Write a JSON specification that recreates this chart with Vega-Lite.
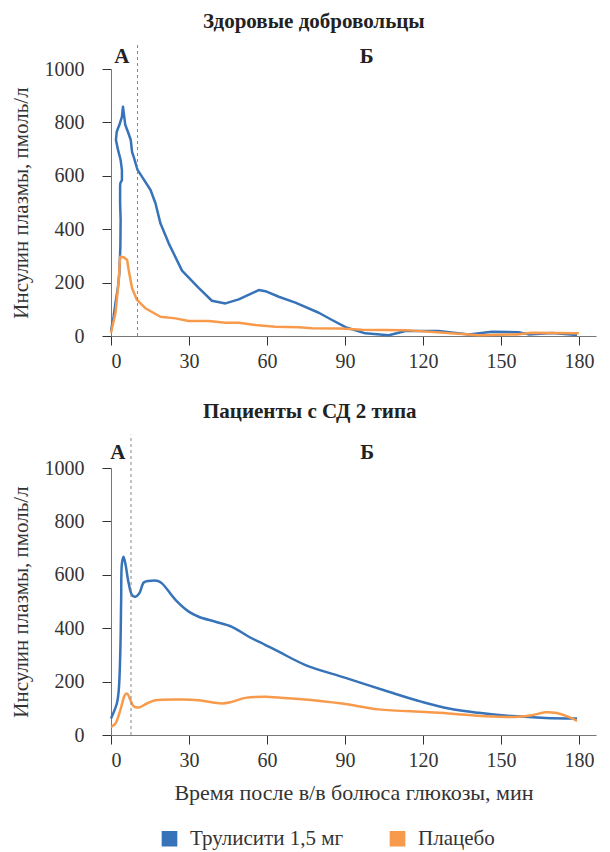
{
  "$schema": "https://vega.github.io/schema/vega-lite/v6.json",
  "background": "white",
  "padding": {"left": 10, "top": 10, "right": 8, "bottom": 8},
  "config": {
    "font": "Liberation Serif, DejaVu Serif, serif",
    "view": {"stroke": null},
    "axis": {
      "labelFontSize": 20, "labelColor": "#333",
      "titleFontSize": 21, "titleFontWeight": "normal", "titleColor": "#333",
      "domainColor": "#777", "tickColor": "#333", "grid": false, "tickSize": 9, "format": "d"
    },
    "axisY": {"labelPadding": 18, "titlePadding": 13},
    "axisX": {"labelPadding": 6, "titlePadding": 12, "titleFontSize": 22},
    "title": {"fontSize": 21, "fontWeight": "bold", "color": "#222"},
    "legend": {"labelFontSize": 21, "labelColor": "#333"},
    "concat": {"spacing": 30}
  },
  "datasets": {
    "healthy": [
      {"i": 1, "s": "Трулисити 1,5 мг", "t": 0, "v": 20},
      {"i": 2, "s": "Трулисити 1,5 мг", "t": 1.0, "v": 72},
      {"i": 3, "s": "Трулисити 1,5 мг", "t": 1.9, "v": 135},
      {"i": 4, "s": "Трулисити 1,5 мг", "t": 2.7, "v": 185},
      {"i": 5, "s": "Трулисити 1,5 мг", "t": 3.2, "v": 235},
      {"i": 6, "s": "Трулисити 1,5 мг", "t": 3.6, "v": 334},
      {"i": 7, "s": "Трулисити 1,5 мг", "t": 3.7, "v": 434},
      {"i": 8, "s": "Трулисити 1,5 мг", "t": 3.5, "v": 500},
      {"i": 9, "s": "Трулисити 1,5 мг", "t": 3.5, "v": 560},
      {"i": 10, "s": "Трулисити 1,5 мг", "t": 3.6, "v": 573},
      {"i": 11, "s": "Трулисити 1,5 мг", "t": 4.2, "v": 584},
      {"i": 12, "s": "Трулисити 1,5 мг", "t": 4.2, "v": 622},
      {"i": 13, "s": "Трулисити 1,5 мг", "t": 3.7, "v": 659},
      {"i": 14, "s": "Трулисити 1,5 мг", "t": 2.7, "v": 697},
      {"i": 15, "s": "Трулисити 1,5 мг", "t": 1.9, "v": 734},
      {"i": 16, "s": "Трулисити 1,5 мг", "t": 2.2, "v": 765},
      {"i": 17, "s": "Трулисити 1,5 мг", "t": 3.2, "v": 790},
      {"i": 18, "s": "Трулисити 1,5 мг", "t": 4.2, "v": 821},
      {"i": 19, "s": "Трулисити 1,5 мг", "t": 4.6, "v": 859},
      {"i": 20, "s": "Трулисити 1,5 мг", "t": 5.0, "v": 828},
      {"i": 21, "s": "Трулисити 1,5 мг", "t": 5.5, "v": 790},
      {"i": 22, "s": "Трулисити 1,5 мг", "t": 6.5, "v": 765},
      {"i": 23, "s": "Трулисити 1,5 мг", "t": 7.6, "v": 734},
      {"i": 24, "s": "Трулисити 1,5 мг", "t": 8.1, "v": 690},
      {"i": 25, "s": "Трулисити 1,5 мг", "t": 8.9, "v": 665},
      {"i": 26, "s": "Трулисити 1,5 мг", "t": 10.2, "v": 622},
      {"i": 27, "s": "Трулисити 1,5 мг", "t": 11.9, "v": 597},
      {"i": 28, "s": "Трулисити 1,5 мг", "t": 15.2, "v": 547},
      {"i": 29, "s": "Трулисити 1,5 мг", "t": 17.1, "v": 497},
      {"i": 30, "s": "Трулисити 1,5 мг", "t": 19, "v": 422},
      {"i": 31, "s": "Трулисити 1,5 мг", "t": 22.2, "v": 347},
      {"i": 32, "s": "Трулисити 1,5 мг", "t": 27.3, "v": 245},
      {"i": 33, "s": "Трулисити 1,5 мг", "t": 33.7, "v": 180},
      {"i": 34, "s": "Трулисити 1,5 мг", "t": 38.8, "v": 132},
      {"i": 35, "s": "Трулисити 1,5 мг", "t": 44, "v": 122},
      {"i": 36, "s": "Трулисити 1,5 мг", "t": 49.1, "v": 137},
      {"i": 37, "s": "Трулисити 1,5 мг", "t": 56.8, "v": 172},
      {"i": 38, "s": "Трулисити 1,5 мг", "t": 59.4, "v": 168},
      {"i": 39, "s": "Трулисити 1,5 мг", "t": 64.5, "v": 147},
      {"i": 40, "s": "Трулисити 1,5 мг", "t": 70.9, "v": 125},
      {"i": 41, "s": "Трулисити 1,5 мг", "t": 79.9, "v": 87},
      {"i": 42, "s": "Трулисити 1,5 мг", "t": 85, "v": 60},
      {"i": 43, "s": "Трулисити 1,5 мг", "t": 90.2, "v": 33},
      {"i": 44, "s": "Трулисити 1,5 мг", "t": 97.8, "v": 10},
      {"i": 45, "s": "Трулисити 1,5 мг", "t": 106.8, "v": 3},
      {"i": 46, "s": "Трулисити 1,5 мг", "t": 113.2, "v": 19},
      {"i": 47, "s": "Трулисити 1,5 мг", "t": 126, "v": 19},
      {"i": 48, "s": "Трулисити 1,5 мг", "t": 137.6, "v": 6},
      {"i": 49, "s": "Трулисити 1,5 мг", "t": 146.5, "v": 16},
      {"i": 50, "s": "Трулисити 1,5 мг", "t": 156.8, "v": 14},
      {"i": 51, "s": "Трулисити 1,5 мг", "t": 160.6, "v": 6},
      {"i": 52, "s": "Трулисити 1,5 мг", "t": 169.6, "v": 11},
      {"i": 53, "s": "Трулисити 1,5 мг", "t": 179.2, "v": 4},
      {"i": 101, "s": "Плацебо", "t": 0, "v": 12},
      {"i": 102, "s": "Плацебо", "t": 1.7, "v": 85},
      {"i": 103, "s": "Плацебо", "t": 3.0, "v": 210},
      {"i": 104, "s": "Плацебо", "t": 3.5, "v": 297},
      {"i": 105, "s": "Плацебо", "t": 4.9, "v": 295},
      {"i": 106, "s": "Плацебо", "t": 6.2, "v": 285},
      {"i": 107, "s": "Плацебо", "t": 6.8, "v": 247},
      {"i": 108, "s": "Плацебо", "t": 8.1, "v": 179},
      {"i": 109, "s": "Плацебо", "t": 10, "v": 135},
      {"i": 110, "s": "Плацебо", "t": 13.2, "v": 104},
      {"i": 111, "s": "Плацебо", "t": 19, "v": 72},
      {"i": 112, "s": "Плацебо", "t": 24.8, "v": 66},
      {"i": 113, "s": "Плацебо", "t": 29.9, "v": 56},
      {"i": 114, "s": "Плацебо", "t": 37.6, "v": 56},
      {"i": 115, "s": "Плацебо", "t": 44, "v": 50},
      {"i": 116, "s": "Плацебо", "t": 49.1, "v": 50},
      {"i": 117, "s": "Плацебо", "t": 55.5, "v": 41},
      {"i": 118, "s": "Плацебо", "t": 63.2, "v": 35},
      {"i": 119, "s": "Плацебо", "t": 72.2, "v": 33},
      {"i": 120, "s": "Плацебо", "t": 77.3, "v": 29},
      {"i": 121, "s": "Плацебо", "t": 88.3, "v": 28},
      {"i": 122, "s": "Плацебо", "t": 96.5, "v": 23},
      {"i": 123, "s": "Плацебо", "t": 113.2, "v": 22},
      {"i": 124, "s": "Плацебо", "t": 136.3, "v": 7},
      {"i": 125, "s": "Плацебо", "t": 141.4, "v": 3},
      {"i": 126, "s": "Плацебо", "t": 156, "v": 6},
      {"i": 127, "s": "Плацебо", "t": 161.8, "v": 12},
      {"i": 128, "s": "Плацебо", "t": 179.9, "v": 10}
    ],
    "t2d": [
      {"i": 1, "s": "Трулисити 1,5 мг", "t": 0, "v": 62},
      {"i": 2, "s": "Трулисити 1,5 мг", "t": 2.3, "v": 120},
      {"i": 3, "s": "Трулисити 1,5 мг", "t": 3.0, "v": 170},
      {"i": 4, "s": "Трулисити 1,5 мг", "t": 3.6, "v": 320},
      {"i": 5, "s": "Трулисити 1,5 мг", "t": 3.9, "v": 500},
      {"i": 6, "s": "Трулисити 1,5 мг", "t": 4.2, "v": 643},
      {"i": 7, "s": "Трулисити 1,5 мг", "t": 4.8, "v": 668},
      {"i": 8, "s": "Трулисити 1,5 мг", "t": 5.5, "v": 643},
      {"i": 9, "s": "Трулисити 1,5 мг", "t": 6.8, "v": 568},
      {"i": 10, "s": "Трулисити 1,5 мг", "t": 8.1, "v": 524},
      {"i": 11, "s": "Трулисити 1,5 мг", "t": 9.4, "v": 518},
      {"i": 12, "s": "Трулисити 1,5 мг", "t": 10.9, "v": 531},
      {"i": 13, "s": "Трулисити 1,5 мг", "t": 12.6, "v": 571},
      {"i": 14, "s": "Трулисити 1,5 мг", "t": 14.5, "v": 577},
      {"i": 15, "s": "Трулисити 1,5 мг", "t": 17.7, "v": 578},
      {"i": 16, "s": "Трулисити 1,5 мг", "t": 19.6, "v": 568},
      {"i": 17, "s": "Трулисити 1,5 мг", "t": 24.8, "v": 506},
      {"i": 18, "s": "Трулисити 1,5 мг", "t": 29.9, "v": 462},
      {"i": 19, "s": "Трулисити 1,5 мг", "t": 33.7, "v": 443},
      {"i": 20, "s": "Трулисити 1,5 мг", "t": 40.2, "v": 424},
      {"i": 21, "s": "Трулисити 1,5 мг", "t": 46.5, "v": 405},
      {"i": 22, "s": "Трулисити 1,5 мг", "t": 53, "v": 368},
      {"i": 23, "s": "Трулисити 1,5 мг", "t": 59.4, "v": 337},
      {"i": 24, "s": "Трулисити 1,5 мг", "t": 64.5, "v": 312},
      {"i": 25, "s": "Трулисити 1,5 мг", "t": 74.8, "v": 262},
      {"i": 26, "s": "Трулисити 1,5 мг", "t": 90.2, "v": 214},
      {"i": 27, "s": "Трулисити 1,5 мг", "t": 106.8, "v": 162},
      {"i": 28, "s": "Трулисити 1,5 мг", "t": 119.6, "v": 124},
      {"i": 29, "s": "Трулисити 1,5 мг", "t": 129.9, "v": 99},
      {"i": 30, "s": "Трулисити 1,5 мг", "t": 141.4, "v": 83},
      {"i": 31, "s": "Трулисити 1,5 мг", "t": 154.2, "v": 71},
      {"i": 32, "s": "Трулисити 1,5 мг", "t": 167.1, "v": 64},
      {"i": 33, "s": "Трулисити 1,5 мг", "t": 179.2, "v": 62},
      {"i": 101, "s": "Плацебо", "t": 0, "v": 30},
      {"i": 102, "s": "Плацебо", "t": 1.7, "v": 43},
      {"i": 103, "s": "Плацебо", "t": 3.6, "v": 93},
      {"i": 104, "s": "Плацебо", "t": 5.3, "v": 149},
      {"i": 105, "s": "Плацебо", "t": 6.2, "v": 155},
      {"i": 106, "s": "Плацебо", "t": 7.5, "v": 130},
      {"i": 107, "s": "Плацебо", "t": 8.7, "v": 108},
      {"i": 108, "s": "Плацебо", "t": 10.7, "v": 103},
      {"i": 109, "s": "Плацебо", "t": 13.8, "v": 118},
      {"i": 110, "s": "Плацебо", "t": 17.1, "v": 130},
      {"i": 111, "s": "Плацебо", "t": 27.3, "v": 133},
      {"i": 112, "s": "Плацебо", "t": 33.7, "v": 130},
      {"i": 113, "s": "Плацебо", "t": 42.7, "v": 118},
      {"i": 114, "s": "Плацебо", "t": 46.5, "v": 124},
      {"i": 115, "s": "Плацебо", "t": 51.7, "v": 139},
      {"i": 116, "s": "Плацебо", "t": 59.4, "v": 143},
      {"i": 117, "s": "Плацебо", "t": 64.5, "v": 140},
      {"i": 118, "s": "Плацебо", "t": 72.2, "v": 135},
      {"i": 119, "s": "Плацебо", "t": 88.8, "v": 118},
      {"i": 120, "s": "Плацебо", "t": 102.9, "v": 96},
      {"i": 121, "s": "Плацебо", "t": 120.9, "v": 86},
      {"i": 122, "s": "Плацебо", "t": 131.2, "v": 80},
      {"i": 123, "s": "Плацебо", "t": 144, "v": 70},
      {"i": 124, "s": "Плацебо", "t": 156.8, "v": 68},
      {"i": 125, "s": "Плацебо", "t": 161.9, "v": 74},
      {"i": 126, "s": "Плацебо", "t": 167.1, "v": 85},
      {"i": 127, "s": "Плацебо", "t": 170.9, "v": 83},
      {"i": 128, "s": "Плацебо", "t": 176, "v": 68},
      {"i": 129, "s": "Плацебо", "t": 179.2, "v": 53}
    ]
  },
  "vconcat": [
    {
      "title": {"text": "Здоровые добровольцы", "anchor": "start", "dx": 193, "offset": 10},
      "width": 485,
      "height": 267,
      "layer": [
        {
          "data": {"name": "healthy"},
          "mark": {"type": "line", "strokeWidth": 2.5, "interpolate": "linear", "strokeJoin": "round"},
          "encoding": {
            "x": {"field": "t", "type": "quantitative", "scale": {"domain": [0, 186.5], "nice": false}, "axis": {"values": [0, 30, 60, 90, 120, 150, 180], "title": null}},
            "y": {"field": "v", "type": "quantitative", "scale": {"domain": [0, 1000], "nice": false}, "axis": {"values": [0, 200, 400, 600, 800, 1000], "title": "Инсулин плазмы, пмоль/л"}},
            "color": {"field": "s", "type": "nominal", "scale": {"domain": ["Трулисити 1,5 мг", "Плацебо"], "range": ["#3773b9", "#f89a4b"]},
              "legend": {"title": null, "orient": "none", "legendX": 48, "legendY": 759, "direction": "horizontal", "symbolSize": 200, "columnPadding": 43, "labelOffset": 10,
                "encode": {"symbols": {"update": {"fill": {"scale": "color", "field": "value"}, "stroke": {"value": "transparent"}, "shape": {"value": "square"}}}}}},
            "order": {"field": "i", "type": "quantitative"}
          }
        },
        {
          "data": {"values": [{"t": 10.2, "v": 0, "v2": 1100}]},
          "mark": {"type": "rule", "strokeDash": [3, 3], "color": "#888", "strokeWidth": 1},
          "encoding": {
            "x": {"field": "t", "type": "quantitative"},
            "y": {"field": "v", "type": "quantitative"},
            "y2": {"field": "v2"}
          }
        },
        {
          "data": {"values": [{"t": 4.2, "v": 1045, "label": "А"}, {"t": 98.3, "v": 1045, "label": "Б"}]},
          "mark": {"type": "text", "fontSize": 21, "fontWeight": "bold", "color": "#222", "baseline": "middle"},
          "encoding": {
            "x": {"field": "t", "type": "quantitative"},
            "y": {"field": "v", "type": "quantitative"},
            "text": {"field": "label"}
          }
        }
      ]
    },
    {
      "title": {"text": "Пациенты с СД 2 типа", "anchor": "start", "dx": 193, "offset": 12},
      "width": 485,
      "height": 267,
      "layer": [
        {
          "data": {"name": "t2d"},
          "mark": {"type": "line", "strokeWidth": 2.5, "interpolate": "catmull-rom", "strokeJoin": "round"},
          "encoding": {
            "x": {"field": "t", "type": "quantitative", "scale": {"domain": [0, 186.5], "nice": false}, "axis": {"values": [0, 30, 60, 90, 120, 150, 180], "title": "Время после в/в болюса глюкозы, мин"}},
            "y": {"field": "v", "type": "quantitative", "scale": {"domain": [0, 1000], "nice": false}, "axis": {"values": [0, 200, 400, 600, 800, 1000], "title": "Инсулин плазмы, пмоль/л"}},
            "color": {"field": "s", "type": "nominal", "scale": {"domain": ["Трулисити 1,5 мг", "Плацебо"], "range": ["#3773b9", "#f89a4b"]}},
            "order": {"field": "i", "type": "quantitative"}
          }
        },
        {
          "data": {"values": [{"t": 7.7, "v": 0, "v2": 1125}]},
          "mark": {"type": "rule", "strokeDash": [3, 3], "color": "#888", "strokeWidth": 1},
          "encoding": {
            "x": {"field": "t", "type": "quantitative"},
            "y": {"field": "v", "type": "quantitative"},
            "y2": {"field": "v2"}
          }
        },
        {
          "data": {"values": [{"t": 2.6, "v": 1055, "label": "А"}, {"t": 98.5, "v": 1055, "label": "Б"}]},
          "mark": {"type": "text", "fontSize": 21, "fontWeight": "bold", "color": "#222", "baseline": "middle"},
          "encoding": {
            "x": {"field": "t", "type": "quantitative"},
            "y": {"field": "v", "type": "quantitative"},
            "text": {"field": "label"}
          }
        }
      ]
    }
  ],
  "resolve": {"scale": {"color": "shared"}}
}
